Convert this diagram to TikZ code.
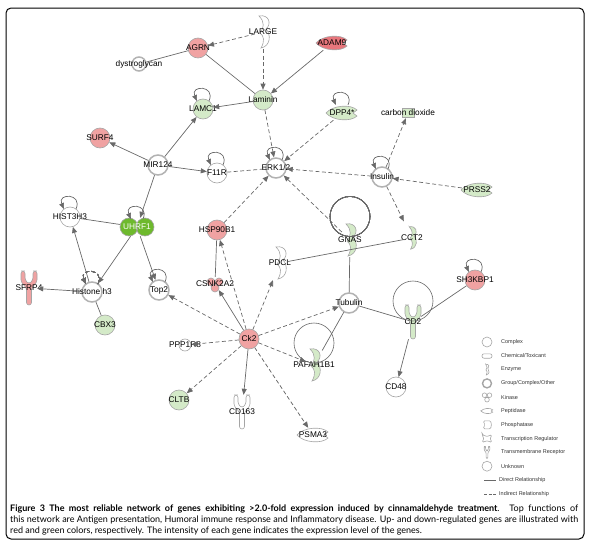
\documentclass[tikz,border=0pt]{standalone}
\usepackage{fontspec}
\setmainfont{Liberation Sans}
\newfontfamily\capfont{Lato}
\usetikzlibrary{arrows.meta,backgrounds,calc}

\definecolor{upred}{RGB}{240,162,162}
\definecolor{deepred}{RGB}{232,118,124}
\definecolor{downgreen}{RGB}{212,234,200}
\definecolor{brightgreen}{RGB}{110,185,45}
\definecolor{nodeline}{RGB}{165,165,165}
\definecolor{edgegray}{RGB}{105,105,105}

% outlines of the molecule shapes (local coordinates, 1pt units)
\newcommand{\enzymepath}{(-4,-16) .. controls (6,-18) and (9,-8) .. (3,-3) .. controls (8,2) and (8,14) .. (-2,16) .. controls (2,9) and (1,4) .. (-3,1) .. controls (1,-4) and (2,-10) .. cycle}
\newcommand{\receptorpath}{(-2.5,17) -- (-2.5,0) -- (-8,-6) -- (-8,-17) -- (-4,-17) -- (-4,-8) -- (0,-4) -- (4,-8) -- (4,-17) -- (8,-17) -- (8,-6) -- (2.5,0) -- (2.5,17) -- cycle}
\newcommand{\peptidasepath}{(-16,0) .. controls (-9,-8) and (9,-9) .. (15,-3) -- (11,0) -- (15,3) .. controls (9,9) and (-9,8) .. cycle}
\newcommand{\selfloop}[2][dir]{\draw[#1] ($(#2)+(6,-8)$) .. controls +(7,-16) and +(-7,-16) .. ($(#2)+(-6,-8)$);}

\tikzset{
  gene/.style={circle, minimum size=20pt, inner sep=0pt, draw=nodeline, line width=0.6pt},
  up/.style={gene, fill=upred},
  down/.style={gene, fill=downgreen},
  plain/.style={gene, fill=white},
  group/.style={gene, fill=white, line width=1.5pt, draw=nodeline!85},
  holder/.style={circle, minimum size=20pt, inner sep=0pt},
  rholder/.style={rectangle, minimum width=16pt, minimum height=34pt, inner sep=0pt},
  pholder/.style={rectangle, minimum width=30pt, minimum height=14pt, inner sep=0pt},
  kholder/.style={rectangle, minimum width=34pt, minimum height=18pt, inner sep=0pt},
  every label/.style={font=\fontsize{8.3}{9}\selectfont, inner sep=0pt},
  shp/.style={draw=nodeline, line width=0.6pt},
  lin/.style={draw=edgegray, line width=0.7pt},
  dir/.style={lin, -{Triangle[length=6pt,width=5pt]}},
  ind/.style={dir, dash pattern=on 4pt off 2.5pt},
  indl/.style={lin, dash pattern=on 4pt off 2.5pt},
  bigloop/.style={draw=edgegray, line width=0.6pt},
  legtext/.style={anchor=west, inner sep=0pt, font=\fontsize{5.5}{6}\selectfont, text=black!80},
}

\begin{document}
\begin{tikzpicture}[x=1pt, y=-1pt]
  \useasboundingbox (0,0) rectangle (590,549);
  % Frame
  \draw[line width=1pt, rounded corners=5pt] (6,8) rectangle (584,539);

  % Genes
  \node[up, label=center:AGRN] (agrn) at (198,48) {};
  \node[rholder, label=center:LARGE] (large) at (263,32) {};
  \node[pholder, label=center:ADAM9] (adam9) at (332,43) {};
  \node[group, minimum size=14pt, label=center:dystroglycan] (dys) at (139,64) {};
  \node[down, label=center:Laminin] (laminin) at (263,100) {};
  \node[down, label=center:LAMC1] (lamc1) at (203,109) {};
  \node[pholder, label=center:DPP4*] (dpp4) at (342,113) {};
  \node[rectangle, minimum width=14pt, minimum height=10pt, inner sep=0pt, label=center:carbon dioxide] (co2) at (408,113) {};
  \node[group, label=center:Insulin] (insulin) at (382,177) {};
  \node[pholder, label=center:PRSS2] (prss2) at (477,190) {};
  \node[group, label=center:ERK1/2] (erk) at (276,168) {};
  \node[plain, label=center:F11R] (f11r) at (217,173) {};
  \node[group, label=center:MIR124] (mir124) at (158,165) {};
  \node[up, label=center:SURF4] (surf4) at (100,138) {};
  \node[plain, label=center:HIST3H3] (hist) at (70,217) {};
  \node[kholder, label={[text=white]center:UHRF1}] (uhrf1) at (137,227) {};
  \node[rholder, label=center:SFRP4] (sfrp4) at (29,288) {};
  \node[group, label=center:Histone h3] (h3) at (92,292) {};
  \node[group, label=center:Top2] (top2) at (159,290) {};
  \node[down, label=center:CBX3] (cbx3) at (105,325) {};
  \node[up, label=center:HSP90B1] (hsp) at (217,230) {};
  \node[holder, minimum size=14pt, label=center:CSNK2A2] (csnk) at (215,284) {};
  \node[rholder, label=center:PDCL] (pdcl) at (280,263) {};
  \node[rholder, label=center:GNAS] (gnas) at (350,240) {};
  \node[rholder, label=center:CCT2] (cct2) at (412,238) {};
  \node[group, label=center:Tubulin] (tubulin) at (349,303) {};
  \node[up, label=center:SH3KBP1] (sh3) at (475,280) {};
  \node[rholder, label=center:CD2] (cd2) at (413,322) {};
  \node[plain, label=center:CD48] (cd48) at (396,387) {};
  \node[up, label=center:Ck2] (ck2) at (249,339) {};
  \node[plain, minimum size=12pt, label=center:PPP1R8] (ppp) at (185,345) {};
  \node[rholder, label=center:PAFAH1B1] (pafah) at (314,365) {};
  \node[down, label=center:CLTB] (cltb) at (179,400) {};
  \node[rholder, label=center:CD163] (cd163) at (242,412) {};
  \node[pholder, label=center:PSMA3] (psma3) at (313,435) {};

  % Shapes behind the labels
  \begin{scope}[on background layer]
    \filldraw[shp, fill=white, shift={(large)}] \enzymepath;
    \filldraw[shp, fill=white, shift={(pdcl)}] \enzymepath;
    \filldraw[shp, fill=downgreen, shift={(gnas)}] \enzymepath;
    \filldraw[shp, fill=downgreen, shift={(cct2)}, scale=0.7] \enzymepath;
    \filldraw[shp, fill=downgreen, shift={(pafah)}] \enzymepath;
    \filldraw[shp, fill=deepred, shift={(adam9)}] \peptidasepath;
    \filldraw[shp, fill=downgreen, shift={(dpp4)}] \peptidasepath;
    \filldraw[shp, fill=downgreen, shift={(prss2)}] \peptidasepath;
    \filldraw[shp, fill=white, shift={(psma3)}] \peptidasepath;
    \filldraw[shp, fill=upred, shift={(sfrp4)}, rounded corners=2.5pt] \receptorpath;
    \filldraw[shp, fill=downgreen, shift={(cd2)}, rounded corners=2.5pt] \receptorpath;
    \filldraw[shp, fill=white, shift={(cd163)}, rounded corners=2.5pt] \receptorpath;
    \filldraw[shp, fill=brightgreen] ($(uhrf1)+(-8,0)$) circle (9pt) ($(uhrf1)+(8,0)$) circle (9pt);
    \filldraw[shp, fill=upred] ($(csnk)+(-4,-2)$) circle (4pt) ($(csnk)+(4,-2)$) circle (4pt) ($(csnk)+(0,4)$) circle (4pt);
    \filldraw[shp, fill=downgreen] ($(co2)+(-6,-4.5)$) rectangle ($(co2)+(6,4.5)$);
  \end{scope}

  % Direct relationships
  \draw[dir] (adam9) -- (laminin);
  \draw[dir] (laminin) -- (lamc1);
  \draw[dir] (mir124) -- (lamc1);
  \draw[dir] (mir124) -- (surf4);
  \draw[dir] (mir124) -- (f11r);
  \draw[dir] (mir124) -- (uhrf1);
  \draw[dir] (uhrf1) -- (h3);
  \draw[dir] (uhrf1) -- (top2);
  \draw[dir] (h3) -- (hist);
  \draw[dir] (h3) -- (sfrp4);
  \draw[dir] (ck2) -- (csnk);
  \draw[dir] (ck2) -- (cd163);
  \draw[dir] (cd2) -- (cd48);
  \draw[lin] (dys) -- (agrn);
  \draw[lin] (agrn) -- (laminin);
  \draw[lin] (hist) -- (uhrf1);
  \draw[lin] (h3) -- (cbx3);
  \draw[lin] (hsp) -- (csnk);
  \draw[lin] (pdcl) -- (cct2);
  \draw[lin] (gnas) -- (tubulin);
  \draw[lin] (tubulin) -- (cd2);
  \draw[lin] (pafah) -- (tubulin);
  \draw[lin] (cd2) -- (sh3);

  % Indirect relationships
  \draw[ind] (large) -- (agrn);
  \draw[ind] (large) -- (laminin);
  \draw[ind] (laminin) -- (erk);
  \draw[ind] (dpp4) -- (erk);
  \draw[ind] (insulin) -- (co2);
  \draw[ind] (insulin) -- (erk);
  \draw[ind] (prss2) -- (insulin);
  \draw[ind] (insulin) -- (cct2);
  \draw[ind] (hsp) -- (erk);
  \draw[ind] (gnas) -- (erk);
  \draw[indl] (f11r) -- (erk);
  \draw[ind] (ck2) -- (hsp);
  \draw[ind] (ck2) -- (top2);
  \draw[ind] (ck2) -- (pdcl);
  \draw[ind] (ck2) -- (tubulin);
  \draw[ind] (ck2) -- (ppp);
  \draw[ind] (ck2) -- (pafah);
  \draw[ind] (ck2) -- (cltb);
  \draw[ind] (ck2) -- (psma3);

  % Self loops
  \foreach \n in {lamc1, dpp4, insulin, erk, f11r, hist, uhrf1, top2, sh3}
    \selfloop{\n}
  \selfloop[ind]{h3}
  \draw[bigloop] (gnas.center) ++(0,-23.5) circle [radius=20pt];
  \draw[bigloop] (cd2.center) ++(0,-21) circle [radius=20pt];
  \draw[bigloop] (pafah.center) ++(0,-22) circle [radius=20pt];

  % Legend
  \foreach \txt [count=\i from 0] in {Complex, Chemical/Toxicant, Enzyme, Group/Complex/Other, Kinase, Peptidase, Phosphatase, Transcription Regulator, Transmembrane Receptor, Unknown}
    \node[legtext] (leg\i) at (501,342+13.8*\i) {\txt};
  \node[legtext] (legdir) at (499,480) {Direct Relationship};
  \node[legtext] (legind) at (499,494) {Indirect Relationship};
  \draw[shp] (487,342) circle (5pt);
  \draw[shp, rounded corners=2pt] (482,353.8) rectangle (492,358.2);
  \draw[shp, shift={(487,369.6)}, scale=0.33] \enzymepath;
  \draw[shp, line width=1.4pt] (487,383.4) circle (4.5pt);
  \draw[shp, shift={(487,397.2)}] (-2.5,-2) circle (2.3pt) (2.5,-2) circle (2.3pt) (0,2.5) circle (2.3pt);
  \draw[shp, shift={(487,411)}, scale=0.38] \peptidasepath;
  \draw[shp, shift={(487,424.8)}, rounded corners=1.5pt] (-4,-4) -- (1,-4) .. controls (5,-4) and (5,4) .. (1,4) -- (-4,4) -- (-2,0) -- cycle;
  \draw[shp, shift={(487,438.6)}, rounded corners=1.5pt] (-5,-4) .. controls (0,-2) .. (5,-4) .. controls (3,0) .. (5,4) .. controls (0,2) .. (-5,4) .. controls (-3,0) .. cycle;
  \draw[shp, shift={(487,452.4)}, scale=0.35, rounded corners=1pt] \receptorpath;
  \draw[shp] (487,466.2) circle (5pt);
  \draw[lin, line width=0.8pt] (484,480) -- (496,480);
  \draw[indl, dash pattern=on 3pt off 1.5pt] (484,494) -- (496,494);

  % Caption
  \node[anchor=north west, inner sep=0pt, text width=568pt, align=justify,
        font=\capfont\fontsize{9}{11}\selectfont] (caption) at (10,504.5)
    {\textbf{Figure 3 The most reliable network of genes exhibiting >2.0-fold expression induced by cinnamaldehyde treatment}. Top functions of\linebreak
     this network are Antigen presentation, Humoral immune response and Inflammatory disease. Up- and down-regulated genes are illustrated with\linebreak
     red and green colors, respectively. The intensity of each gene indicates the expression level of the genes.};
\end{tikzpicture}
\end{document}
